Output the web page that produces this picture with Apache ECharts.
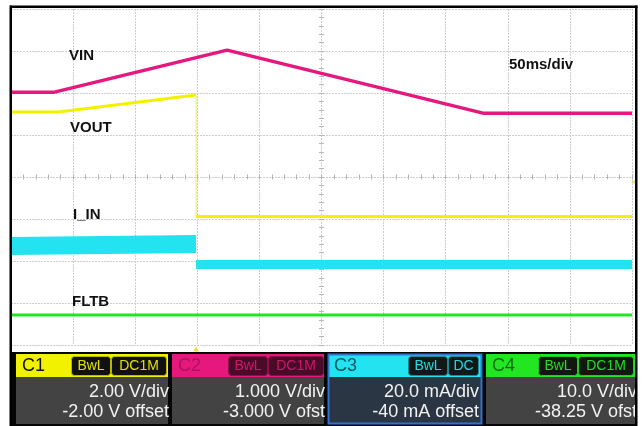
<!DOCTYPE html>
<html><head><meta charset="utf-8">
<script src="https://cdn.jsdelivr.net/npm/echarts@6/dist/echarts.min.js"></script>
<style>html,body{margin:0;padding:0;background:#fff}#c{width:642px;height:426px}</style>
</head><body><div id="c"></div>
<script>
// ---- data (time in ms, 50 ms/div, 10 div) ----
const timeRangeMs = [0, 500];
const vinTime = [0, 35, 174, 380, 500];
const vinVolts = [5.02, 5.02, 6.02, 4.52, 4.52];
const voutTime = [0, 38, 149];
const voutVolts = [5.1, 5.1, 5.9];
const voutOffTime = [149, 500];
const voutOffVolts = [0.12, 0.12];
const iinTime = [0, 149];
const iinMilliamps = [7.1, 8.1];
const iinOffTime = [149, 500];
const iinOffMilliamps = [-1.7, -1.7];
const fltbTime = [0, 500];
const fltbVolts = [5.4, 5.4];
const triggerTimeMs = 149;
const triggerLevelVolts = 1.76;

// ---- channel settings ----
const channelNames = ['C1', 'C2', 'C3', 'C4'];
const perDiv = [2, 1, 20, 10];
const offsets = [-2, -3, -40, -38.25];
const scaleLabels = ['2.00 V/div', '1.000 V/div', '20.0 mA/div', '10.0 V/div'];
const offsetLabels = ['-2.00 V offset', '-3.000 V ofst', '-40 mA offset', '-38.25 V ofst'];
const bwLabels = ['BwL', 'BwL', 'BwL', 'BwL'];
const couplingLabels = ['DC1M', 'DC1M', 'DC', 'DC1M'];
const traceLabels = ['VIN', 'VOUT', 'I_IN', 'FLTB'];
const timebaseLabel = '50ms/div';

// ---- styles / layout ----
const chColors = ['#f2f200', '#e6177d', '#22e3ef', '#22e622'];
const chHeadText = ['#111111', '#b0125e', '#0b5866', '#0c6e0c'];
const badgeFill = ['#111111', '#4a0b28', '#101818', '#101810'];
const badgeStroke = ['#b8b800', '#8a1048', '#1a8a94', '#22cc22'];
const badgeText = ['#e0e000', '#d0186a', '#22d8e4', '#22dd22'];
const boxX = [[16, 168], [172, 324], [328, 482], [486, 636]];
const badgeBw = [[71, 111], [228, 268], [408, 448], [538, 578]];
const badgeCp = [[111, 167], [268, 324], [448, 479], [578, 634]];
const labelPos = [[69, 56], [70, 128], [73, 215], [72, 302]];

const zip = (a, b) => a.map((v, i) => [v, b[i]]);
const chAxis = i => {
  const c = -offsets[i];
  return { type: 'value', min: c - 4 * perDiv[i], max: c + 4 * perDiv[i], show: false,
    axisLine: { onZero: false }, splitLine: { show: false } };
};
const hid = { show: false };
const tickColor = '#b4b4b4';

const chart = echarts.init(document.getElementById('c'));
const graphics = [];
// panel background
graphics.push({ type: 'rect', shape: { x: 10, y: 352, width: 627, height: 74 }, style: { fill: '#050505' }, z: 50 });
for (let i = 0; i < 4; i++) {
  const [x0, x1] = boxX[i];
  const w = x1 - x0;
  graphics.push({ type: 'rect', shape: { x: x0, y: 354, width: w, height: 23 }, style: { fill: chColors[i] }, z: 51 });
  graphics.push({ type: 'rect', shape: { x: x0, y: 377, width: w, height: 47 }, style: { fill: i === 2 ? '#2a3644' : '#434343' }, z: 51 });
  if (i === 2) {
    graphics.push({ type: 'rect', shape: { x: x0 + 0.5, y: 354.5, width: w - 1, height: 69 }, style: { fill: null, stroke: '#2f72d6', lineWidth: 2 }, z: 53 });
  }
  graphics.push({ type: 'text', x: x0 + 6, y: 366, style: { text: channelNames[i], fill: chHeadText[i], font: '18px "Liberation Sans", Arial, sans-serif', textAlign: 'left', align: 'left', textVerticalAlign: 'middle', verticalAlign: 'middle' }, z: 54 });
  [[badgeBw[i], bwLabels[i]], [badgeCp[i], couplingLabels[i]]].forEach(([b, t]) => {
    graphics.push({ type: 'rect', shape: { x: b[0] + 0.5, y: 356.5, width: b[1] - b[0] - 1, height: 19, r: 3 }, style: { fill: badgeFill[i], stroke: badgeStroke[i], lineWidth: 1 }, z: 54 });
    graphics.push({ type: 'text', x: (b[0] + b[1]) / 2, y: 366.5, style: { text: t, fill: badgeText[i], font: '14px "Liberation Sans", Arial, sans-serif', textAlign: 'center', align: 'center', textVerticalAlign: 'middle', verticalAlign: 'middle' }, z: 55 });
  });
  const rx = i === 2 ? x1 - 3 : x1 + 1;
  graphics.push({ type: 'text', x: rx, y: 392, style: { text: scaleLabels[i], fill: '#f2f2f2', font: '18px "Liberation Sans", Arial, sans-serif', textAlign: 'right', align: 'right', textVerticalAlign: 'middle', verticalAlign: 'middle' }, z: 54 });
  graphics.push({ type: 'text', x: rx, y: 412, style: { text: offsetLabels[i], fill: '#f2f2f2', font: '18px "Liberation Sans", Arial, sans-serif', textAlign: 'right', align: 'right', textVerticalAlign: 'middle', verticalAlign: 'middle' }, z: 54 });
}
// frame
graphics.push({ type: 'rect', shape: { x: 10, y: 5.5, width: 627.5, height: 2.5 }, style: { fill: '#000' }, z: 60 });
graphics.push({ type: 'rect', shape: { x: 9.5, y: 5.5, width: 2.5, height: 421 }, style: { fill: '#000' }, z: 60 });
graphics.push({ type: 'rect', shape: { x: 635, y: 5.5, width: 2.5, height: 421 }, style: { fill: '#000' }, z: 60 });
// trace labels
traceLabels.forEach((t, i) => {
  graphics.push({ type: 'text', x: labelPos[i][0], y: labelPos[i][1], style: { text: t, fill: '#111', font: 'bold 15px "Liberation Sans", Arial, sans-serif', textAlign: 'left', align: 'left', textVerticalAlign: 'middle', verticalAlign: 'middle' }, z: 40 });
});
graphics.push({ type: 'text', x: 509, y: 65, style: { text: timebaseLabel, fill: '#111', font: 'bold 15px "Liberation Sans", Arial, sans-serif', textAlign: 'left', align: 'left', textVerticalAlign: 'middle', verticalAlign: 'middle' }, z: 40 });

const centerTick = (inside, onZeroIdx) => ({
  type: 'value', min: -5, max: 5, interval: 1,
  axisLine: { show: false, onZero: true, onZeroAxisIndex: onZeroIdx },
  axisTick: { show: true, inside: inside, length: 2.5, lineStyle: { color: tickColor } },
  minorTick: { show: true, splitNumber: 5, length: 2.5, lineStyle: { color: tickColor } },
  axisLabel: hid, splitLine: hid
});
const centerTickY = (inside, onZeroIdx) => ({
  type: 'value', min: -4, max: 4, interval: 1, position: 'left',
  axisLine: { show: false, onZero: true, onZeroAxisIndex: onZeroIdx },
  axisTick: { show: true, inside: inside, length: 2.5, lineStyle: { color: tickColor } },
  minorTick: { show: true, splitNumber: 5, length: 2.5, lineStyle: { color: tickColor } },
  axisLabel: hid, splitLine: hid
});

const lineSeries = (data, yIdx, color, width, z) => ({
  type: 'line', xAxisIndex: 3, yAxisIndex: yIdx, data, symbol: 'none', silent: true,
  lineStyle: { color, width, cap: 'butt', join: 'round' }, z: z || 3, animation: false
});

chart.setOption({
  animation: false,
  backgroundColor: '#ffffff',
  grid: { left: 11, top: 9, width: 621, height: 336, containLabel: false },
  xAxis: [
    { type: 'value', min: -5, max: 5, interval: 1, position: 'bottom',
      axisLine: { show: false, onZero: false }, axisTick: hid, axisLabel: hid,
      splitLine: { show: true, lineStyle: { color: '#cdcdcd', width: 1, type: [2, 1] } } },
    Object.assign(centerTick(false, 0), { position: 'bottom' }),
    Object.assign(centerTick(true, 1), { position: 'bottom' }),
    { type: 'value', min: timeRangeMs[0], max: timeRangeMs[1], show: false, axisLine: { onZero: false } }
  ],
  yAxis: [
    { type: 'value', min: -4, max: 4, interval: 1, position: 'left',
      axisLine: { show: false, onZero: false }, axisTick: hid, axisLabel: hid,
      splitLine: { show: true, lineStyle: { color: '#cdcdcd', width: 1, type: [2, 1] } } },
    centerTickY(false, 0),
    centerTickY(true, 1),
    chAxis(0), chAxis(1), chAxis(2), chAxis(3)
  ],
  series: [
    lineSeries(zip(fltbTime, fltbVolts), 6, chColors[3], 3),
    lineSeries(zip(iinTime, iinMilliamps), 5, chColors[2], 18),
    lineSeries(zip(iinOffTime, iinOffMilliamps), 5, chColors[2], 9),
    lineSeries(zip(voutTime, voutVolts), 3, chColors[0], 3),
    lineSeries([[voutTime[voutTime.length - 1], voutVolts[voutVolts.length - 1]], [voutOffTime[0], voutOffVolts[0]]], 3, '#eeee55', 1),
    lineSeries(zip(voutOffTime, voutOffVolts), 3, chColors[0], 3),
    lineSeries(zip(vinTime, vinVolts), 4, chColors[1], 3.5, 4),
    { type: 'scatter', xAxisIndex: 3, yAxisIndex: 3, silent: true, clip: false, z: 5,
      data: [[triggerTimeMs, chAxis(0).min]], symbol: 'triangle', symbolSize: [6, 5], symbolOffset: [0, 4],
      itemStyle: { color: '#e6d800' } },
    { type: 'scatter', xAxisIndex: 3, yAxisIndex: 3, silent: true, clip: false, z: 5,
      data: [[timeRangeMs[1], triggerLevelVolts]], symbol: 'triangle', symbolRotate: 90, symbolSize: [5, 5], symbolOffset: [2, 0],
      itemStyle: { color: '#e6d800' } }
  ],
  graphic: { elements: graphics }
});
</script></body></html>
